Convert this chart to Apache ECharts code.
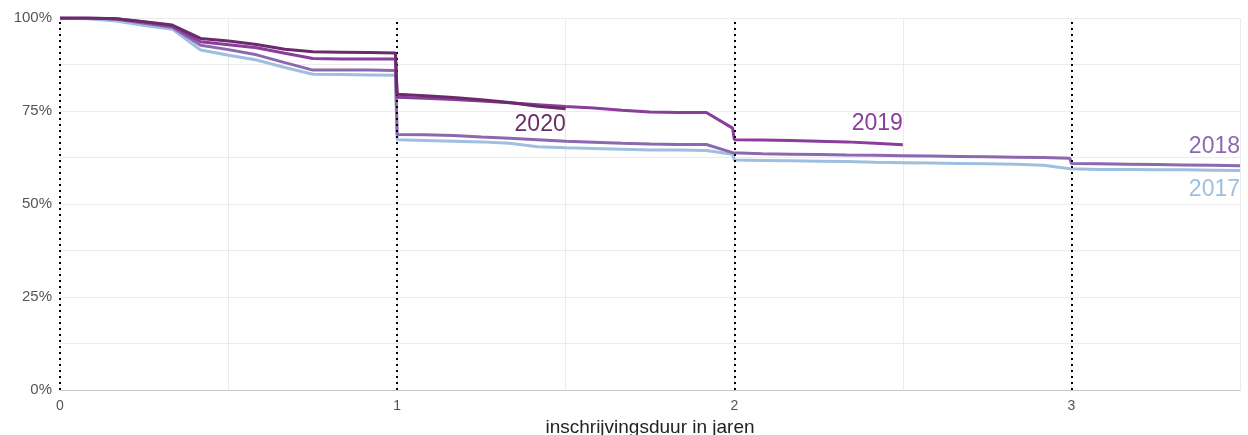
<!DOCTYPE html>
<html>
<head>
<meta charset="utf-8">
<script src="https://cdn.jsdelivr.net/npm/echarts@6/dist/echarts.min.js"></script>
<style>
  html, body { margin: 0; padding: 0; background: #fff; }
  #chart { width: 1248px; height: 435px; }
</style>
</head>
<body>
<div id="chart"></div>
<script>
// inschrijvingsduur (jaren) - gedeelde x-waarden
const durations = [0, 0.083, 0.167, 0.25, 0.333, 0.417, 0.5, 0.583, 0.667, 0.75, 0.833, 0.917, 0.995,
  1, 1.083, 1.167, 1.25, 1.333, 1.417, 1.5, 1.583, 1.667, 1.75, 1.833, 1.917, 1.995,
  2, 2.083, 2.167, 2.25, 2.333, 2.417, 2.5, 2.583, 2.667, 2.75, 2.833, 2.917, 2.995,
  3, 3.083, 3.167, 3.25, 3.333, 3.417, 3.5]

// percentage nog ingeschreven per cohort
const cohort2017 = [100, 99.8, 99.2, 98.0, 97.0, 91.4, 90.0, 88.7, 86.7, 84.9, 84.8, 84.7, 84.6,
  67.3, 67.1, 66.9, 66.7, 66.3, 65.4, 65.1, 64.9, 64.7, 64.5, 64.5, 64.4, 63.4,
  61.8, 61.7, 61.6, 61.5, 61.4, 61.2, 61.1, 61.0, 60.9, 60.8, 60.7, 60.4, 59.5,
  59.4, 59.3, 59.3, 59.2, 59.2, 59.1, 59.0]
const cohort2018 = [100, 100, 99.7, 98.6, 97.5, 92.7, 91.5, 90.1, 88.0, 86.0, 86.0, 86.0, 85.9,
  68.7, 68.6, 68.4, 68.0, 67.7, 67.3, 66.9, 66.6, 66.3, 66.1, 66.0, 66.0, 63.8,
  63.6, 63.5, 63.4, 63.3, 63.2, 63.1, 63.0, 62.9, 62.8, 62.7, 62.6, 62.5, 62.3,
  60.9, 60.8, 60.7, 60.6, 60.5, 60.4, 60.3]
const cohort2019 = [100, 100, 99.8, 98.9, 97.8, 93.6, 92.8, 92.0, 90.5, 89.1, 89.0, 89.0, 89.0,
  78.7, 78.4, 78.1, 77.7, 77.2, 76.7, 76.2, 75.8, 75.2, 74.7, 74.6, 74.6, 70.4,
  67.3, 67.2, 67.1, 66.9, 66.7, 66.3, 65.9]
const cohort2020 = [100, 100, 99.8, 99.0, 98.1, 94.5, 93.8, 92.9, 91.6, 90.9, 90.8, 90.7, 90.6,
  79.5, 79.1, 78.6, 78.0, 77.3, 76.3, 75.6]

const cohortNames = ['2017', '2018', '2019', '2020']
const yearMarks = [0, 1, 2, 3]

const colors = ['#9fbfdf', '#8c68b0', '#8a3d9c', '#6b2b6a']
// label placement relative to line end: [dy, verticalAlign]
const labelPlace = [[8, 'top'], [-8, 'bottom'], [-10, 'bottom'], [4, 'top']]

const chart = echarts.init(document.getElementById('chart'))

function makeSeries(name, values, idx) {
  const data = values.map((v, i) => [durations[i], v])
  const last = data[data.length - 1]
  const s = {
    name: name,
    type: 'line',
    data: data,
    showSymbol: false,
    symbol: 'none',
    lineStyle: { color: colors[idx], width: 3 },
    itemStyle: { color: colors[idx] },
    z: 2 + idx,
    markPoint: {
      symbol: 'circle',
      symbolSize: 0,
      silent: true,
      data: [{ coord: last }],
      label: {
        show: true,
        formatter: name,
        position: [0, labelPlace[idx][0]],
        align: 'right',
        verticalAlign: labelPlace[idx][1],
        color: colors[idx],
        fontSize: 23,
        fontFamily: 'Liberation Sans, Arial, sans-serif'
      }
    }
  }
  if (idx === 3) {
    // stippellijnen op hele jaren
    s.markLine = {
      silent: true,
      symbol: 'none',
      label: { show: false },
      lineStyle: { color: '#000', type: [2, 4], width: 2 },
      data: yearMarks.map(v => ({ xAxis: v }))
    }
  }
  return s
}

const option = {
  animation: false,
  textStyle: { fontFamily: 'Liberation Sans, Arial, sans-serif' },
  grid: {
    top: 18,
    left: 60,
    right: 8,
    bottom: 45,
    outerBoundsMode: 'none'
  },
  xAxis: {
    type: 'value',
    min: 0,
    max: 3.5,
    interval: 0.5,
    name: 'inschrijvingsduur in jaren',
    nameLocation: 'middle',
    nameGap: 20,
    nameTextStyle: { color: '#222', fontSize: 19 },
    axisLine: { // 轴线
      show: true,
      lineStyle: { color: '#c8c8c8', width: 1 }
    },
    axisTick: { show: false },
    axisLabel: {
      color: '#555',
      fontSize: 14,
      margin: 9,
      formatter: v => (Number.isInteger(v) ? String(v) : '')
    },
    splitLine: { // 分割线
      show: true,
      lineStyle: { color: '#ebebeb' }
    }
  },
  yAxis: {
    type: 'value',
    min: 0,
    max: 100,
    interval: 12.5,
    axisLine: { show: false },
    axisTick: { show: false },
    axisLabel: {
      color: '#555',
      fontSize: 15,
      margin: 8,
      formatter: v => (v % 25 === 0 ? v + '%' : '')
    },
    splitLine: {
      show: true,
      lineStyle: { color: '#ebebeb' }
    }
  },
  series: [
    makeSeries(cohortNames[0], cohort2017, 0),
    makeSeries(cohortNames[1], cohort2018, 1),
    makeSeries(cohortNames[2], cohort2019, 2),
    makeSeries(cohortNames[3], cohort2020, 3)
  ]
}

chart.setOption(option)
</script>
</body>
</html>
